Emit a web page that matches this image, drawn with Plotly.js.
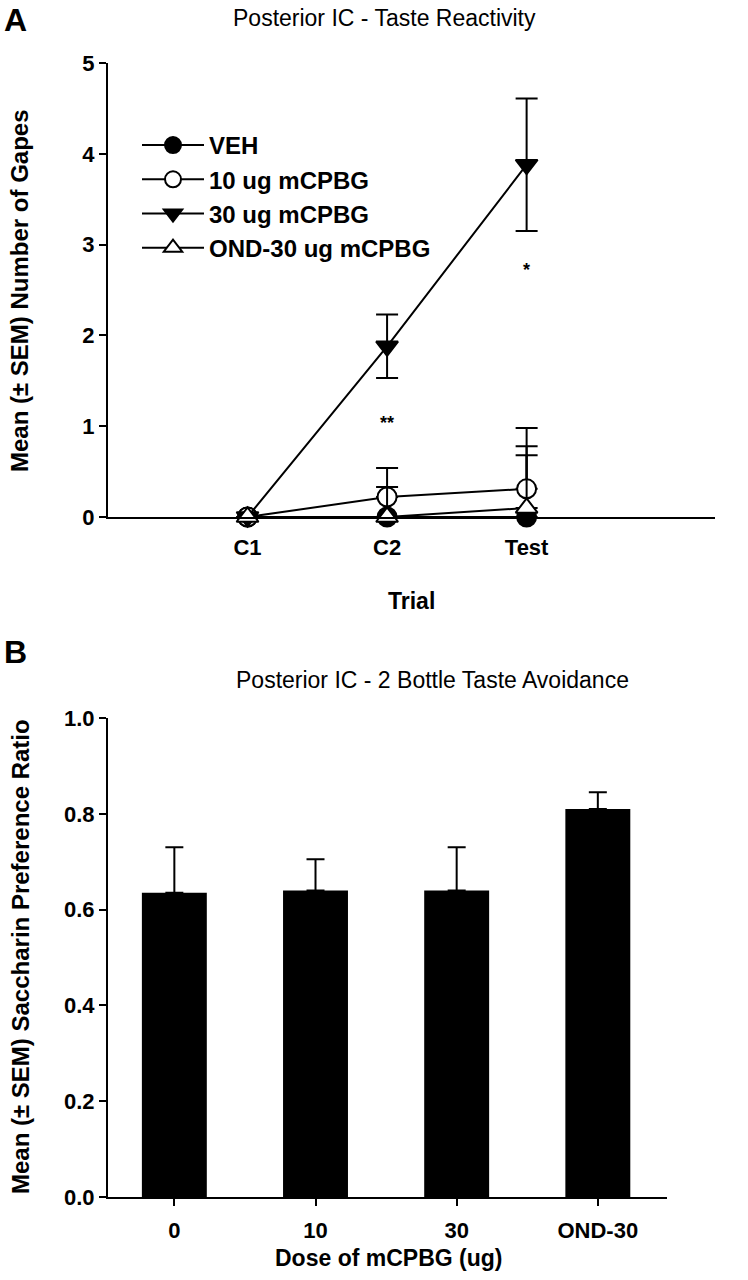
<!DOCTYPE html>
<html>
<head>
<meta charset="utf-8">
<script src="https://cdn.plot.ly/plotly-3.0.1.min.js"></script>
<style>html,body{margin:0;padding:0;background:#fff;}#chart{width:748px;height:1280px;}</style>
</head>
<body>
<div id="chart"></div>
<script>
// ---- Panel A data ----
const trials = ['C1', 'C2', 'Test'];
const seriesNames = ['VEH', '10 ug mCPBG', '30 ug mCPBG', 'OND-30 ug mCPBG'];
const vehMean = [0, 0, 0];
const vehErr = [0, 0, 0.68];
const ug10Mean = [0, 0.22, 0.31];
const ug10Err = [0, 0.32, 0.67];
const ug30Mean = [0, 1.88, 3.88];
const ug30Err = [0, 0.35, 0.73];
const ondMean = [0, 0, 0.1];
const ondErr = [0, 0.33, 0.68];
const sigX = ['C2', 'Test'];
const sigY = [1.03, 2.72];
const sigText = ['**', '*'];

// ---- Panel B data ----
const doses = ['0', '10', '30', 'OND-30'];
const prefMean = [0.635, 0.64, 0.64, 0.81];
const prefErr = [0.095, 0.065, 0.09, 0.035];

const FONT = 'Liberation Sans, Arial, sans-serif';
const boldFont = (s) => ({family: FONT, size: s, color: '#000', weight: 'bold'});
const H = 1280, W = 748;
const px = (v) => v / W;
const py = (v) => 1 - v / H;

function lineTrace(name, x, y, err, symbol, fill, symmetric) {
  const e = {type: 'data', array: err, color: '#000', thickness: 2, width: 11};
  if (!symmetric) { e.symmetric = false; e.arrayminus = err.map(() => 0); }
  return {
    type: 'scatter', mode: 'lines+markers', name: name, x: x, y: y,
    xaxis: 'x', yaxis: 'y', legendgroup: name,
    line: {color: '#000', width: 2},
    marker: {symbol: symbol, size: 19, color: fill, line: {color: '#000', width: 2}},
    error_y: e, cliponaxis: false
  };
}

const traces = [
  lineTrace(seriesNames[0], trials, vehMean, vehErr, 'circle', '#000', false),
  lineTrace(seriesNames[1], trials, ug10Mean, ug10Err, 'circle', '#fff', false),
  lineTrace(seriesNames[2], trials, ug30Mean, ug30Err, 'triangle-down', '#000', true),
  lineTrace(seriesNames[3], trials, ondMean, ondErr, 'triangle-up', '#fff', false),
  {
    type: 'bar', x: doses, y: prefMean, xaxis: 'x2', yaxis: 'y2', showlegend: false,
    width: 0.46, marker: {color: '#000', line: {width: 0}},
    error_y: {type: 'data', symmetric: false, array: prefErr, arrayminus: prefErr.map(() => 0), color: '#000', thickness: 2, width: 9}
  }
];

const annotations = sigX.map((x, i) => ({
  x: x, y: sigY[i], xref: 'x', yref: 'y', text: sigText[i], showarrow: false,
  font: boldFont(18)
}));
function paperText(x, y, text, font, extra) {
  return Object.assign({x: px(x), y: py(y), xref: 'paper', yref: 'paper', xanchor: 'center', yanchor: 'middle',
    text: text, showarrow: false, font: font}, extra || {});
}
annotations.push(
  paperText(385, 18, 'Posterior IC - Taste Reactivity', {family: FONT, size: 23, color: '#000'}),
  paperText(432, 680, 'Posterior IC - 2 Bottle Taste Avoidance', {family: FONT, size: 23, color: '#000'}),
  paperText(16, 20, 'A', boldFont(32)),
  paperText(16, 652, 'B', boldFont(32)),
  paperText(20, 291, 'Mean (± SEM) Number of Gapes', boldFont(24), {textangle: -90}),
  paperText(20, 957, 'Mean (± SEM) Saccharin Preference Ratio', boldFont(24), {textangle: -90}),
  paperText(411, 601, 'Trial', boldFont(23)),
  paperText(388, 1258, 'Dose of mCPBG (ug)', boldFont(23))
);

const axisCommon = {
  showline: true, linecolor: '#000', linewidth: 2, showgrid: false, zeroline: false,
  tickfont: boldFont(22), ticks: 'outside', ticklen: 7, tickwidth: 2, tickcolor: '#000'
};

const layout = {
  width: W, height: H,
  margin: {l: 0, r: 0, t: 0, b: 0},
  paper_bgcolor: '#fff', plot_bgcolor: '#fff',
  showlegend: true,
  legend: {
    x: px(137), y: py(123), xanchor: 'left', yanchor: 'top',
    bgcolor: 'rgba(0,0,0,0)', borderwidth: 0, font: boldFont(24),
    itemwidth: 62, tracegroupgap: 0
  },
  xaxis: Object.assign({}, axisCommon, {
    domain: [px(108), px(715)], anchor: 'y', type: 'category', range: [-1, 3.35],
    ticks: '', ticklabelstandoff: 10
  }),
  yaxis: Object.assign({}, axisCommon, {
    domain: [py(517), py(63)], anchor: 'x', range: [0, 5], dtick: 1
  }),
  xaxis2: Object.assign({}, axisCommon, {
    domain: [px(108), px(667)], anchor: 'y2', type: 'category', range: [-0.47, 3.49],
    ticklabelstandoff: 6
  }),
  yaxis2: Object.assign({}, axisCommon, {
    domain: [py(1197), py(718)], anchor: 'x2', range: [0, 1], dtick: 0.2, tickformat: '.1f'
  }),
  annotations: annotations
};

Plotly.newPlot('chart', traces, layout, {displayModeBar: false, staticPlot: true});
</script>
</body>
</html>
